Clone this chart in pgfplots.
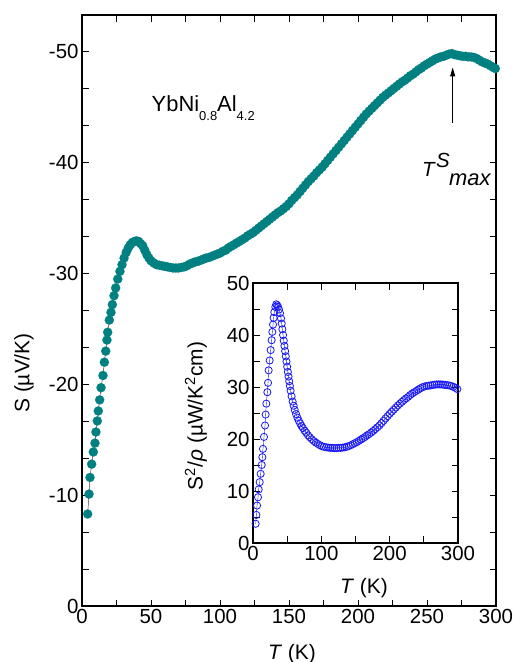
\documentclass[border=0pt]{standalone}
\usepackage{fontspec}
\setmainfont{Liberation Sans}
\usepackage{pgfplots}
\usepackage{pgfplotstable}
\pgfplotsset{compat=1.18}
\usetikzlibrary{arrows.meta}
\definecolor{tealS}{RGB}{0,128,128}
\definecolor{blueP}{RGB}{25,25,245}

% Seebeck coefficient S (muV/K) vs T (K)
\pgfplotstableread{
T S
4.1 -8.3
5.1 -10.1
5.8 -11.6
7.0 -12.8
8.2 -13.9
9.4 -14.7
10.1 -15.7
11.1 -16.7
11.8 -17.6
12.8 -18.6
13.8 -19.7
15.2 -20.8
16.2 -22.0
17.2 -23.0
18.1 -24.0
18.6 -24.7
19.8 -25.8
21.0 -26.5
22.0 -27.2
23.2 -28.0
24.4 -28.7
25.9 -29.5
27.5 -30.2
29.0 -30.8
30.5 -31.4
32.0 -31.9
33.5 -32.3
35.0 -32.6
36.5 -32.8
38.0 -32.9
39.5 -32.95
41.0 -32.9
42.5 -32.7
44.0 -32.5
45.5 -32.1
47.0 -31.7
48.5 -31.4
50.0 -31.15
52.0 -30.95
54.0 -30.8
56.0 -30.75
58.0 -30.7
60.0 -30.65
62.0 -30.6
64.0 -30.55
66.0 -30.5
68.0 -30.5
70.0 -30.5
72.0 -30.55
74.0 -30.6
76.0 -30.7
78.0 -30.85
80.0 -30.95
82.0 -31.05
84.0 -31.1
86.0 -31.2
88.0 -31.3
90.0 -31.4
92.0 -31.45
94.0 -31.55
96.0 -31.65
98.0 -31.75
100.0 -31.85
102.0 -32.0
104.0 -32.1
106.0 -32.3
108.0 -32.45
110.0 -32.6
112.0 -32.75
114.0 -32.9
116.0 -33.05
118.0 -33.2
120.0 -33.4
122.0 -33.55
124.0 -33.7
126.0 -33.9
128.0 -34.1
130.0 -34.3
132.0 -34.5
134.0 -34.7
136.0 -34.9
138.0 -35.1
140.0 -35.3
142.0 -35.5
144.0 -35.65
146.0 -35.85
148.0 -36.05
150.0 -36.3
152.0 -36.6
154.0 -36.85
156.0 -37.1
158.0 -37.4
160.0 -37.7
162.0 -38.0
164.0 -38.3
166.0 -38.55
168.0 -38.8
170.0 -39.1
172.0 -39.35
174.0 -39.6
176.0 -39.9
178.0 -40.2
180.0 -40.5
182.0 -40.8
184.0 -41.1
186.0 -41.4
188.0 -41.7
190.0 -42.0
192.0 -42.3
194.0 -42.6
196.0 -42.9
198.0 -43.2
200.0 -43.5
202.0 -43.8
204.0 -44.1
206.0 -44.4
208.0 -44.65
210.0 -44.9
212.0 -45.15
214.0 -45.4
216.0 -45.65
218.0 -45.9
220.0 -46.1
222.0 -46.3
224.0 -46.5
226.0 -46.7
228.0 -46.9
230.0 -47.1
232.0 -47.3
234.0 -47.45
236.0 -47.65
238.0 -47.85
240.0 -48.0
242.0 -48.2
244.0 -48.4
246.0 -48.55
248.0 -48.75
250.0 -48.9
252.0 -49.05
254.0 -49.2
256.0 -49.35
258.0 -49.45
260.0 -49.55
262.0 -49.6
264.0 -49.7
266.0 -49.8
268.0 -49.85
270.0 -49.75
272.0 -49.7
274.0 -49.65
276.0 -49.6
278.0 -49.6
280.0 -49.55
282.0 -49.55
284.0 -49.5
286.0 -49.4
288.0 -49.25
290.0 -49.1
292.0 -49.0
294.0 -48.9
296.0 -48.75
298.0 -48.6
299.5 -48.5
}\seebeck

% power factor S^2/rho vs T (K)
\pgfplotstableread{
T P
3.9 3.7
4.9 5.4
5.9 7.2
7.3 8.8
8.3 10.3
9.8 11.7
11.2 13.3
12.7 15.0
13.7 16.5
14.6 18.1
16.1 20.4
17.6 22.6
18.5 24.7
19.5 26.8
21.0 29.0
22.0 30.8
22.9 33.2
24.4 35.1
25.9 37.1
27.3 39.0
28.3 40.6
29.3 42.0
30.2 43.3
31.2 44.4
32.7 45.4
34.1 45.9
35.5 45.7
36.6 45.4
38.0 44.9
39.5 44.2
41.0 43.2
42.0 42.2
43.0 41.1
44.0 40.0
45.0 38.9
46.0 37.9
47.0 36.9
48.0 35.9
49.0 34.9
50.0 33.9
51.0 32.9
52.0 32.0
53.0 31.1
54.0 30.2
55.0 29.3
56.5 28.2
58.0 27.2
59.5 26.4
61.0 25.6
63.0 24.8
65.0 24.1
67.0 23.5
69.0 23.0
71.0 22.5
73.0 22.1
75.5 21.6
78.0 21.2
80.5 20.7
83.0 20.35
86.0 19.95
89.0 19.6
92.0 19.3
95.0 19.05
98.0 18.8
101.0 18.6
104.0 18.5
107.0 18.4
110.0 18.35
113.0 18.3
116.0 18.3
119.0 18.25
122.0 18.25
125.0 18.3
128.0 18.3
131.0 18.35
134.0 18.4
137.0 18.5
140.0 18.65
143.0 18.8
146.0 19.0
149.0 19.2
152.0 19.4
155.0 19.65
158.0 19.9
161.0 20.15
164.0 20.4
167.0 20.7
170.0 20.95
173.0 21.25
176.0 21.55
179.0 21.9
182.0 22.25
185.0 22.6
188.0 23.05
191.0 23.5
194.0 23.95
197.0 24.4
200.0 24.85
203.0 25.25
206.0 25.65
209.0 26.05
212.0 26.45
215.0 26.8
218.0 27.15
221.0 27.5
224.0 27.8
227.0 28.1
230.0 28.45
233.0 28.75
236.0 29.0
239.0 29.25
242.0 29.5
245.0 29.75
248.0 29.95
251.0 30.1
254.0 30.2
257.0 30.25
260.0 30.3
263.0 30.4
266.0 30.45
269.0 30.5
272.0 30.5
275.0 30.5
278.0 30.45
281.0 30.4
284.0 30.35
287.0 30.3
290.0 30.2
293.0 30.05
296.0 29.85
299.0 29.6
}\power

\pgfplotsset{
  frame/.style={
    scale only axis,
    anchor=south west,
    tick align=inside,
    xtick pos=both, ytick pos=both,
    major tick length=6.5bp, minor tick length=6.5bp,
    axis line style={line width=1.2bp},
    every tick/.style={black, line width=0.9bp},
    tick label style={font=\fontsize{20.5}{24}\selectfont},
    /pgf/number format/assume math mode=true,
  },
}

\begin{document}
\begin{tikzpicture}[x=1bp,y=1bp]
\useasboundingbox (0bp,0bp) rectangle (513bp,662bp);

\begin{axis}[frame,
  at={(82bp,56bp)}, width=414bp, height=591bp,
  xmin=0, xmax=300, ymin=-53.33, ymax=0, y dir=reverse,
  xtick={0,50,...,300}, minor x tick num=1,
  ytick={0,-10,-20,-30,-40,-50}, yticklabels={0,-10,-20,-30,-40,-50},
  minor y tick num=2,
]
\addplot[color=black!75, line width=0.5bp, mark=*, mark size=4.6bp,
  mark options={fill=tealS, draw=tealS, line width=0.1bp}] table {\seebeck};
\draw[line width=0.9bp, -{Triangle[length=9bp,width=5bp]}]
  (axis cs:268.6,-43.6) -- (axis cs:268.6,-48.6);
\end{axis}

\begin{axis}[frame,
  at={(253bp,119bp)}, width=205bp, height=260bp,
  xmin=0, xmax=300, ymin=0, ymax=50,
  xtick={0,100,200,300}, minor x tick num=1,
  ytick={0,10,...,50}, minor y tick num=1,
]
\addplot[color=blueP, line width=0.4bp, mark=o, mark size=3.6bp,
  mark options={draw=blueP, line width=0.8bp}] table {\power};
\end{axis}

\node[anchor=base west, inner sep=0, font=\fontsize{22}{26}\selectfont] at (151.5bp,550bp)
  {YbNi\raisebox{-9bp}{\fontsize{13}{13}\selectfont 0.8}Al\raisebox{-9bp}{\fontsize{13}{13}\selectfont 4.2}};

\node[anchor=base west, inner sep=0, font=\fontsize{20.5}{24}\selectfont\itshape] at (422bp,485bp) {T};
\node[anchor=base west, inner sep=0, font=\fontsize{20.5}{24}\selectfont\itshape] at (436bp,494bp) {S};
\node[anchor=base west, inner sep=0, font=\fontsize{22}{26}\selectfont\itshape] at (449bp,476bp) {max};

\node[anchor=base, font=\fontsize{21}{25}\selectfont] at (292bp,3bp) {\textit{T} (K)};
\node[rotate=90, font=\fontsize{21}{25}\selectfont] at (24bp,289bp) {S (µV/K)};
\node[anchor=base, font=\fontsize{21}{25}\selectfont] at (364bp,68bp) {\textit{T} (K)};
\node[rotate=90, font=\fontsize{21}{25}\selectfont] at (196bp,246bp)
  {S\textsuperscript{2}/\textit{ρ} (µW/K\textsuperscript{2}cm)};
\end{tikzpicture}
\end{document}
